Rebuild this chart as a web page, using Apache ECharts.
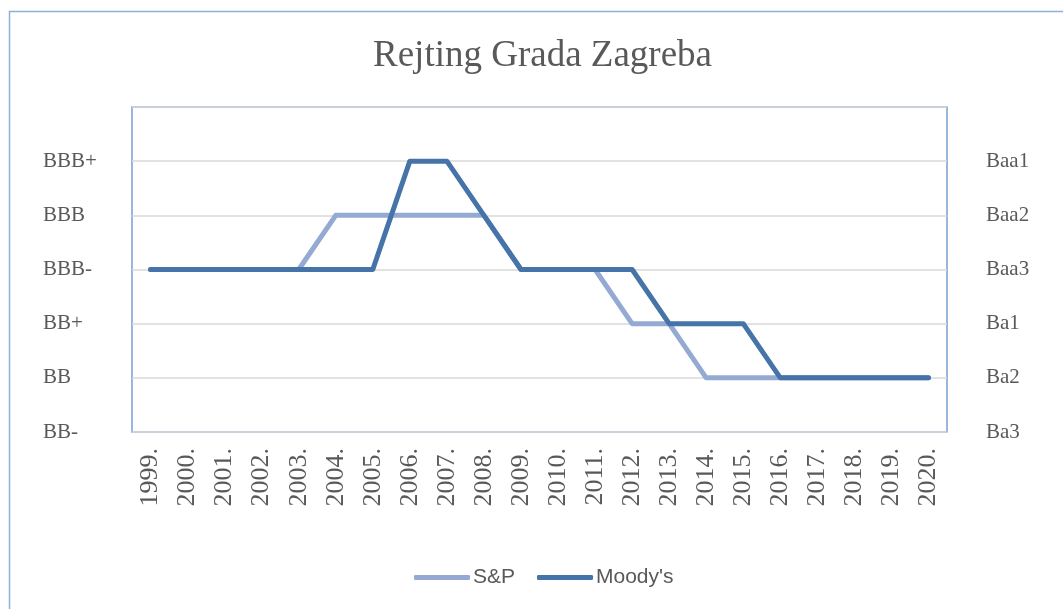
<!DOCTYPE html>
<html>
<head>
<meta charset="utf-8">
<script src="https://cdn.jsdelivr.net/npm/echarts@6/dist/echarts.min.js"></script>
<style>
  html, body { margin: 0; padding: 0; background: #fff; }
  #root { width: 1063px; height: 609px; }
</style>
</head>
<body>
<div id="root"></div>
<script>
// godine
var years = ['1999.', '2000.', '2001.', '2002.', '2003.', '2004.', '2005.', '2006.', '2007.', '2008.', '2009.',
  '2010.', '2011.', '2012.', '2013.', '2014.', '2015.', '2016.', '2017.', '2018.', '2019.', '2020.'];

// ljestvice rejtinga (0 = najniza)
var spLabels = ['BB-', 'BB', 'BB+', 'BBB-', 'BBB', 'BBB+'];
var moodysLabels = ['Ba3', 'Ba2', 'Ba1', 'Baa3', 'Baa2', 'Baa1'];

// razina rejtinga po godini
var spValues = [3, 3, 3, 3, 3, 4, 4, 4, 4, 4, 3, 3, 3, 2, 2, 1, 1, 1, 1, 1, 1, 1];
var moodysValues = [3, 3, 3, 3, 3, 3, 3, 5, 5, 4, 3, 3, 3, 3, 2, 2, 2, 1, 1, 1, 1, 1];

var textColor = '#595959';
var serif = '"Liberation Serif", "Times New Roman", serif';

var chart = echarts.init(document.getElementById('root'));

var option = {
  animation: false,
  title: {
    text: 'Rejting Grada Zagreba',
    left: 368,
    top: 33,
    textStyle: {
      fontFamily: serif,
      fontSize: 37,
      fontWeight: 'normal',
      color: textColor
    }
  },
  legend: {
    bottom: 16,
    left: 409,
    icon: 'roundRect',
    itemWidth: 56,
    itemHeight: 5,
    itemGap: 22,
    textStyle: {
      fontFamily: '"Liberation Sans", Arial, sans-serif',
      fontSize: 21,
      color: textColor,
      padding: [0, 0, 0, -2]
    },
    data: ['S&P', "Moody's"]
  },
  graphic: [{
    type: 'rect',
    shape: { x: 9.5, y: 11.5, width: 1200, height: 800 },
    style: { fill: 'none', stroke: '#8db0dc', lineWidth: 1.5 },
    silent: true
  }],
  grid: {
    left: 132,
    top: 107,
    right: 116,
    bottom: 177,
    show: true,
    borderColor: '#7b9fd2',
    borderWidth: 1.5
  },
  xAxis: {
    type: 'category',
    data: years,
    boundaryGap: true,
    axisLine: { show: false },
    axisTick: { show: false },
    axisLabel: {
      rotate: 90,
      margin: 16,
      interval: 0,
      fontFamily: serif,
      fontSize: 26,
      color: textColor
    }
  },
  yAxis: [{
    type: 'value',
    min: 0,
    max: 6,
    interval: 1,
    position: 'left',
    axisLine: { show: false },
    axisTick: { show: false },
    splitLine: { lineStyle: { color: '#d9d9d9', width: 1.5 } },
    axisLabel: {
      align: 'left',
      margin: 89,
      fontFamily: serif,
      fontSize: 21,
      color: textColor,
      formatter: function (v) { return spLabels[v] || ''; }
    }
  }, {
    type: 'value',
    min: 0,
    max: 6,
    interval: 1,
    position: 'right',
    axisLine: { show: false },
    axisTick: { show: false },
    splitLine: { show: false },
    axisLabel: {
      margin: 39,
      fontFamily: serif,
      fontSize: 21,
      color: textColor,
      formatter: function (v) { return moodysLabels[v] || ''; }
    }
  }],
  series: [{
    name: 'S&P',
    type: 'line',
    data: spValues,
    symbol: 'none',
    itemStyle: { color: '#95aad3' },
    lineStyle: { color: '#95aad3', width: 5, cap: 'round', join: 'round' }
  }, {
    name: "Moody's",
    type: 'line',
    data: moodysValues,
    symbol: 'none',
    itemStyle: { color: '#4674a8' },
    lineStyle: { color: '#4674a8', width: 5, cap: 'round', join: 'round' }
  }]
};

chart.setOption(option);
window.addEventListener('resize', function () { chart.resize(); });
</script>
</body>
</html>
